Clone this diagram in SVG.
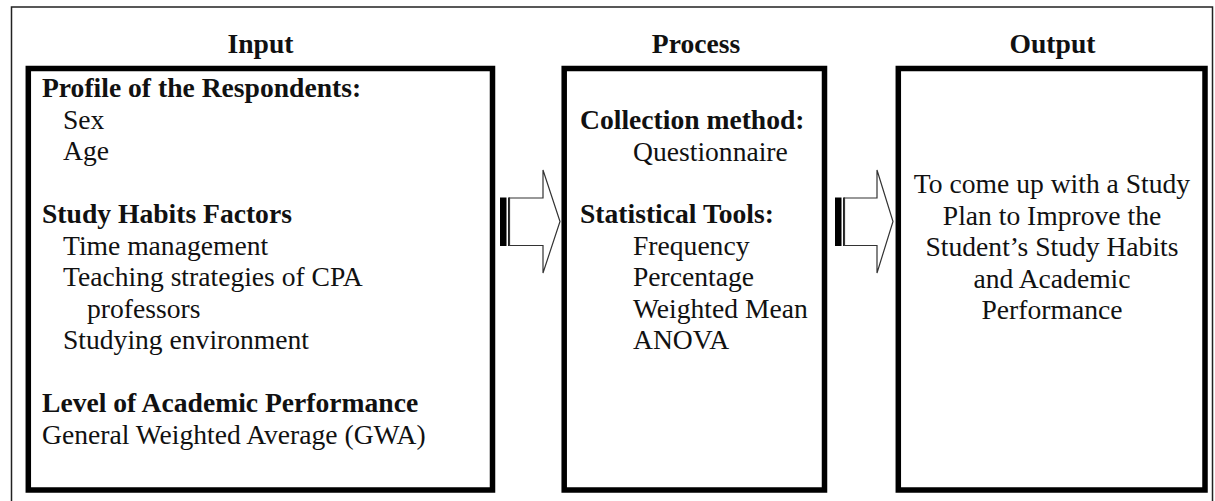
<svg xmlns="http://www.w3.org/2000/svg" width="1215" height="501" viewBox="0 0 1215 501">
<style>
text{font-family:'Liberation Serif','Times New Roman',serif;font-size:27.6px;fill:#111}
.b{font-weight:bold}
.c{text-anchor:middle}
.box{fill:#fff;stroke:#000;stroke-width:5.5}
.arr{fill:#fff;stroke:#333;stroke-width:1.2;stroke-linejoin:miter}
</style>
<rect x="0" y="0" width="1215" height="501" fill="#fff"/>
<rect id="frame" x="11.5" y="7" width="1201" height="520" fill="none" stroke="#222" stroke-width="1.5"/>
<g id="input">
<text class="b c" x="260.5" y="53">Input</text>
<rect class="box" x="28.3" y="68.5" width="464.2" height="421.5"/>
<text class="b" x="42" y="97">Profile of the Respondents:</text>
<text x="63" y="128.5">Sex</text>
<text x="63" y="160">Age</text>
<text class="b" x="42" y="223">Study Habits Factors</text>
<text x="63" y="254.5">Time management</text>
<text x="63" y="286">Teaching strategies of CPA</text>
<text x="87" y="317.5">professors</text>
<text x="63" y="349">Studying environment</text>
<text class="b" x="42" y="412">Level of Academic Performance</text>
<text x="42" y="443.5">General Weighted Average (GWA)</text>
</g>
<g id="process">
<text class="b c" x="696" y="53">Process</text>
<rect class="box" x="564.2" y="68.5" width="260.3" height="421.5"/>
<text class="b" x="580" y="129">Collection method:</text>
<text x="633" y="160.5">Questionnaire</text>
<text class="b" x="580" y="223">Statistical Tools:</text>
<text x="633" y="254.5">Frequency</text>
<text x="633" y="286">Percentage</text>
<text x="633" y="317.5">Weighted Mean</text>
<text x="633" y="349">ANOVA</text>
</g>
<g id="output">
<text class="b c" x="1052.5" y="53">Output</text>
<rect class="box" x="898.3" y="68.5" width="306.7" height="421.5"/>
<text class="c" x="1052" y="193">To come up with a Study</text>
<text class="c" x="1052" y="224.5">Plan to Improve the</text>
<text class="c" x="1052" y="256">Student’s Study Habits</text>
<text class="c" x="1052" y="287.5">and Academic</text>
<text class="c" x="1052" y="319">Performance</text>
</g>
<g id="connectors">
<g id="arrow1">
<rect x="500" y="197.5" width="6.5" height="48.5" fill="#000"/>
<line x1="509" y1="197.5" x2="509" y2="246" stroke="#222" stroke-width="2"/>
<polygon class="arr" points="509.5,198 543,198 543,170 560,221.5 543,273 543,245.5 509.5,245.5"/>
</g>
<g id="arrow2">
<rect x="835" y="197.5" width="6.5" height="48.5" fill="#000"/>
<line x1="844" y1="197.5" x2="844" y2="246" stroke="#222" stroke-width="2"/>
<polygon class="arr" points="844.5,198 877,198 877,170 893,221.5 877,273 877,245.5 844.5,245.5"/>
</g>
</g>
</svg>
